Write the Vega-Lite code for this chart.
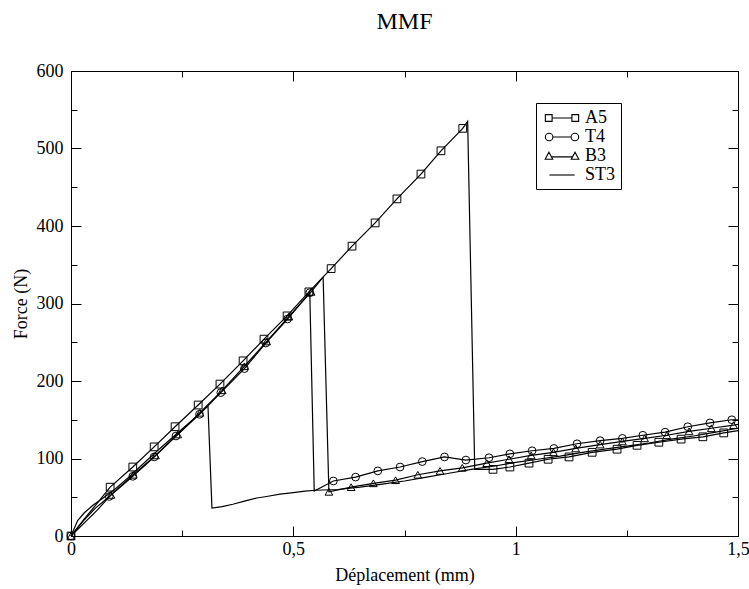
{
  "$schema": "https://vega.github.io/schema/vega-lite/v6.json",
  "width": 667,
  "height": 465,
  "autosize": {"type": "none"},
  "padding": {"left": 71, "top": 71, "right": 11, "bottom": 53},
  "background": "white",
  "title": {"text": "MMF", "font": "Liberation Serif", "fontSize": 24, "fontWeight": "normal", "color": "black", "anchor": "middle", "offset": 28, "frame": "group"},
  "datasets": {
    "curves": [
      {"series": "A5", "x": 0, "y": 0}, {"series": "A5", "x": 0.03, "y": 22}, {"series": "A5", "x": 0.06, "y": 43},
      {"series": "A5", "x": 0.088, "y": 63}, {"series": "A5", "x": 0.139, "y": 89}, {"series": "A5", "x": 0.187, "y": 115},
      {"series": "A5", "x": 0.234, "y": 141}, {"series": "A5", "x": 0.286, "y": 169}, {"series": "A5", "x": 0.335, "y": 196},
      {"series": "A5", "x": 0.387, "y": 226}, {"series": "A5", "x": 0.434, "y": 254}, {"series": "A5", "x": 0.486, "y": 284},
      {"series": "A5", "x": 0.535, "y": 315}, {"series": "A5", "x": 0.585, "y": 345}, {"series": "A5", "x": 0.632, "y": 374},
      {"series": "A5", "x": 0.684, "y": 404}, {"series": "A5", "x": 0.733, "y": 435}, {"series": "A5", "x": 0.787, "y": 467},
      {"series": "A5", "x": 0.832, "y": 497}, {"series": "A5", "x": 0.881, "y": 526}, {"series": "A5", "x": 0.892, "y": 535},
      {"series": "A5", "x": 0.908, "y": 86}, {"series": "A5", "x": 0.949, "y": 86}, {"series": "A5", "x": 0.987, "y": 89},
      {"series": "A5", "x": 1.03, "y": 94}, {"series": "A5", "x": 1.073, "y": 99}, {"series": "A5", "x": 1.12, "y": 102},
      {"series": "A5", "x": 1.172, "y": 108}, {"series": "A5", "x": 1.228, "y": 112}, {"series": "A5", "x": 1.273, "y": 117},
      {"series": "A5", "x": 1.322, "y": 121}, {"series": "A5", "x": 1.372, "y": 125}, {"series": "A5", "x": 1.421, "y": 128},
      {"series": "A5", "x": 1.468, "y": 133}, {"series": "A5", "x": 1.5, "y": 136},

      {"series": "T4", "x": 0, "y": 0}, {"series": "T4", "x": 0.03, "y": 21}, {"series": "T4", "x": 0.055, "y": 36},
      {"series": "T4", "x": 0.086, "y": 51}, {"series": "T4", "x": 0.139, "y": 77}, {"series": "T4", "x": 0.187, "y": 102},
      {"series": "T4", "x": 0.236, "y": 129}, {"series": "T4", "x": 0.289, "y": 157}, {"series": "T4", "x": 0.337, "y": 185},
      {"series": "T4", "x": 0.39, "y": 216}, {"series": "T4", "x": 0.438, "y": 249}, {"series": "T4", "x": 0.487, "y": 280},
      {"series": "T4", "x": 0.537, "y": 314}, {"series": "T4", "x": 0.547, "y": 58}, {"series": "T4", "x": 0.59, "y": 71},
      {"series": "T4", "x": 0.64, "y": 76}, {"series": "T4", "x": 0.69, "y": 84}, {"series": "T4", "x": 0.74, "y": 89},
      {"series": "T4", "x": 0.79, "y": 96}, {"series": "T4", "x": 0.84, "y": 102}, {"series": "T4", "x": 0.888, "y": 98},
      {"series": "T4", "x": 0.94, "y": 101}, {"series": "T4", "x": 0.987, "y": 106}, {"series": "T4", "x": 1.037, "y": 110},
      {"series": "T4", "x": 1.086, "y": 113}, {"series": "T4", "x": 1.138, "y": 119}, {"series": "T4", "x": 1.19, "y": 123},
      {"series": "T4", "x": 1.24, "y": 126}, {"series": "T4", "x": 1.286, "y": 130}, {"series": "T4", "x": 1.336, "y": 134},
      {"series": "T4", "x": 1.387, "y": 141}, {"series": "T4", "x": 1.437, "y": 146}, {"series": "T4", "x": 1.486, "y": 150},
      {"series": "T4", "x": 1.5, "y": 150},

      {"series": "B3", "x": 0, "y": 0}, {"series": "B3", "x": 0.03, "y": 17}, {"series": "B3", "x": 0.06, "y": 34},
      {"series": "B3", "x": 0.09, "y": 53}, {"series": "B3", "x": 0.14, "y": 79}, {"series": "B3", "x": 0.19, "y": 104},
      {"series": "B3", "x": 0.24, "y": 131}, {"series": "B3", "x": 0.29, "y": 159}, {"series": "B3", "x": 0.34, "y": 188},
      {"series": "B3", "x": 0.39, "y": 219}, {"series": "B3", "x": 0.44, "y": 251}, {"series": "B3", "x": 0.49, "y": 283},
      {"series": "B3", "x": 0.54, "y": 315}, {"series": "B3", "x": 0.567, "y": 334}, {"series": "B3", "x": 0.58, "y": 57},
      {"series": "B3", "x": 0.63, "y": 63}, {"series": "B3", "x": 0.68, "y": 68}, {"series": "B3", "x": 0.73, "y": 72},
      {"series": "B3", "x": 0.78, "y": 79}, {"series": "B3", "x": 0.83, "y": 84}, {"series": "B3", "x": 0.88, "y": 88},
      {"series": "B3", "x": 0.935, "y": 94}, {"series": "B3", "x": 0.985, "y": 99}, {"series": "B3", "x": 1.035, "y": 104},
      {"series": "B3", "x": 1.085, "y": 108}, {"series": "B3", "x": 1.135, "y": 113}, {"series": "B3", "x": 1.19, "y": 118},
      {"series": "B3", "x": 1.24, "y": 122}, {"series": "B3", "x": 1.29, "y": 126}, {"series": "B3", "x": 1.34, "y": 130},
      {"series": "B3", "x": 1.39, "y": 135}, {"series": "B3", "x": 1.44, "y": 139}, {"series": "B3", "x": 1.49, "y": 143},
      {"series": "B3", "x": 1.5, "y": 144},

      {"series": "ST3", "x": 0, "y": 0}, {"series": "ST3", "x": 0.015, "y": 20}, {"series": "ST3", "x": 0.03, "y": 30},
      {"series": "ST3", "x": 0.05, "y": 40}, {"series": "ST3", "x": 0.07, "y": 48}, {"series": "ST3", "x": 0.1, "y": 61},
      {"series": "ST3", "x": 0.13, "y": 76}, {"series": "ST3", "x": 0.16, "y": 92}, {"series": "ST3", "x": 0.2, "y": 113},
      {"series": "ST3", "x": 0.25, "y": 138}, {"series": "ST3", "x": 0.28, "y": 153}, {"series": "ST3", "x": 0.308, "y": 168},
      {"series": "ST3", "x": 0.317, "y": 36}, {"series": "ST3", "x": 0.34, "y": 38}, {"series": "ST3", "x": 0.364, "y": 41},
      {"series": "ST3", "x": 0.39, "y": 45}, {"series": "ST3", "x": 0.418, "y": 49}, {"series": "ST3", "x": 0.44, "y": 51},
      {"series": "ST3", "x": 0.47, "y": 54}, {"series": "ST3", "x": 0.5, "y": 56}, {"series": "ST3", "x": 0.526, "y": 58},
      {"series": "ST3", "x": 0.55, "y": 59}, {"series": "ST3", "x": 0.6, "y": 60}, {"series": "ST3", "x": 0.65, "y": 63},
      {"series": "ST3", "x": 0.7, "y": 67}, {"series": "ST3", "x": 0.75, "y": 71}, {"series": "ST3", "x": 0.8, "y": 76},
      {"series": "ST3", "x": 0.85, "y": 81}, {"series": "ST3", "x": 0.9, "y": 86}, {"series": "ST3", "x": 0.95, "y": 90},
      {"series": "ST3", "x": 1.0, "y": 95}, {"series": "ST3", "x": 1.05, "y": 99}, {"series": "ST3", "x": 1.1, "y": 103},
      {"series": "ST3", "x": 1.15, "y": 108}, {"series": "ST3", "x": 1.2, "y": 112}, {"series": "ST3", "x": 1.25, "y": 116},
      {"series": "ST3", "x": 1.3, "y": 120}, {"series": "ST3", "x": 1.35, "y": 125}, {"series": "ST3", "x": 1.4, "y": 129},
      {"series": "ST3", "x": 1.45, "y": 134}, {"series": "ST3", "x": 1.5, "y": 139}
    ],
    "markers": [
      {"series": "A5", "x": 0, "y": 0}, {"series": "A5", "x": 0.088, "y": 63}, {"series": "A5", "x": 0.139, "y": 89},
      {"series": "A5", "x": 0.187, "y": 115}, {"series": "A5", "x": 0.234, "y": 141}, {"series": "A5", "x": 0.286, "y": 169},
      {"series": "A5", "x": 0.335, "y": 196}, {"series": "A5", "x": 0.387, "y": 226}, {"series": "A5", "x": 0.434, "y": 254},
      {"series": "A5", "x": 0.486, "y": 284}, {"series": "A5", "x": 0.535, "y": 315}, {"series": "A5", "x": 0.585, "y": 345},
      {"series": "A5", "x": 0.632, "y": 374}, {"series": "A5", "x": 0.684, "y": 404}, {"series": "A5", "x": 0.733, "y": 435},
      {"series": "A5", "x": 0.787, "y": 467}, {"series": "A5", "x": 0.832, "y": 497}, {"series": "A5", "x": 0.881, "y": 526},
      {"series": "A5", "x": 0.949, "y": 86}, {"series": "A5", "x": 0.987, "y": 89}, {"series": "A5", "x": 1.03, "y": 94},
      {"series": "A5", "x": 1.073, "y": 99}, {"series": "A5", "x": 1.12, "y": 102}, {"series": "A5", "x": 1.172, "y": 108},
      {"series": "A5", "x": 1.228, "y": 112}, {"series": "A5", "x": 1.273, "y": 117}, {"series": "A5", "x": 1.322, "y": 121},
      {"series": "A5", "x": 1.372, "y": 125}, {"series": "A5", "x": 1.421, "y": 128}, {"series": "A5", "x": 1.468, "y": 133},

      {"series": "T4", "x": 0, "y": 0}, {"series": "T4", "x": 0.086, "y": 51}, {"series": "T4", "x": 0.139, "y": 77},
      {"series": "T4", "x": 0.187, "y": 102}, {"series": "T4", "x": 0.236, "y": 129}, {"series": "T4", "x": 0.289, "y": 157},
      {"series": "T4", "x": 0.337, "y": 185}, {"series": "T4", "x": 0.39, "y": 216}, {"series": "T4", "x": 0.438, "y": 249},
      {"series": "T4", "x": 0.487, "y": 280}, {"series": "T4", "x": 0.537, "y": 314}, {"series": "T4", "x": 0.59, "y": 71},
      {"series": "T4", "x": 0.64, "y": 76}, {"series": "T4", "x": 0.69, "y": 84}, {"series": "T4", "x": 0.74, "y": 89},
      {"series": "T4", "x": 0.79, "y": 96}, {"series": "T4", "x": 0.84, "y": 102}, {"series": "T4", "x": 0.888, "y": 98},
      {"series": "T4", "x": 0.94, "y": 101}, {"series": "T4", "x": 0.987, "y": 106}, {"series": "T4", "x": 1.037, "y": 110},
      {"series": "T4", "x": 1.086, "y": 113}, {"series": "T4", "x": 1.138, "y": 119}, {"series": "T4", "x": 1.19, "y": 123},
      {"series": "T4", "x": 1.24, "y": 126}, {"series": "T4", "x": 1.286, "y": 130}, {"series": "T4", "x": 1.336, "y": 134},
      {"series": "T4", "x": 1.387, "y": 141}, {"series": "T4", "x": 1.437, "y": 146}, {"series": "T4", "x": 1.486, "y": 150},

      {"series": "B3", "x": 0, "y": 0}, {"series": "B3", "x": 0.09, "y": 53}, {"series": "B3", "x": 0.14, "y": 79},
      {"series": "B3", "x": 0.19, "y": 104}, {"series": "B3", "x": 0.24, "y": 131}, {"series": "B3", "x": 0.29, "y": 159},
      {"series": "B3", "x": 0.34, "y": 188}, {"series": "B3", "x": 0.39, "y": 219}, {"series": "B3", "x": 0.44, "y": 251},
      {"series": "B3", "x": 0.49, "y": 283}, {"series": "B3", "x": 0.54, "y": 315}, {"series": "B3", "x": 0.58, "y": 57},
      {"series": "B3", "x": 0.63, "y": 63}, {"series": "B3", "x": 0.68, "y": 68}, {"series": "B3", "x": 0.73, "y": 72},
      {"series": "B3", "x": 0.78, "y": 79}, {"series": "B3", "x": 0.83, "y": 84}, {"series": "B3", "x": 0.88, "y": 88},
      {"series": "B3", "x": 0.935, "y": 94}, {"series": "B3", "x": 0.985, "y": 99}, {"series": "B3", "x": 1.035, "y": 104},
      {"series": "B3", "x": 1.085, "y": 108}, {"series": "B3", "x": 1.135, "y": 113}, {"series": "B3", "x": 1.19, "y": 118},
      {"series": "B3", "x": 1.24, "y": 122}, {"series": "B3", "x": 1.29, "y": 126}, {"series": "B3", "x": 1.34, "y": 130},
      {"series": "B3", "x": 1.39, "y": 135}, {"series": "B3", "x": 1.44, "y": 139}, {"series": "B3", "x": 1.49, "y": 143}
    ]
  },
  "layer": [
    {
      "data": {"name": "curves"},
      "mark": {"type": "line", "color": "black", "strokeWidth": 1.2},
      "encoding": {
        "x": {"field": "x", "type": "quantitative", "scale": {"domain": [0, 1.5], "nice": false, "zero": false},
          "axis": {"orient": "bottom", "values": [0, 0.25, 0.5, 0.75, 1, 1.25, 1.5],
            "labelExpr": "datum.value % 0.5 == 0 ? replace(toString(datum.value), '.', ',') : ''",
            "tickSize": {"condition": {"test": "datum.value % 0.5 == 0", "value": -10}, "value": -6},
            "labelPadding": 14, "title": "Déplacement (mm)", "titlePadding": 4}},
        "y": {"field": "y", "type": "quantitative", "scale": {"domain": [0, 600], "nice": false, "zero": false},
          "axis": {"orient": "left", "values": [0, 50, 100, 150, 200, 250, 300, 350, 400, 450, 500, 550, 600],
            "labelExpr": "datum.value % 100 == 0 ? toString(datum.value) : ''",
            "tickSize": {"condition": {"test": "datum.value % 100 == 0", "value": -10}, "value": -6},
            "labelPadding": 18, "title": "Force (N)", "titlePadding": 6}},
        "detail": {"field": "series", "type": "nominal"}
      }
    },
    {
      "data": {"name": "markers"},
      "mark": {"type": "point", "filled": false, "stroke": "black", "strokeWidth": 1, "size": 60, "opacity": 1},
      "encoding": {
        "x": {"field": "x", "type": "quantitative",
          "axis": {"orient": "top", "values": [0, 0.25, 0.5, 0.75, 1, 1.25, 1.5], "labels": false, "title": null,
            "tickSize": {"condition": {"test": "datum.value % 0.5 == 0", "value": -10}, "value": -6}}},
        "y": {"field": "y", "type": "quantitative",
          "axis": {"orient": "right", "values": [0, 50, 100, 150, 200, 250, 300, 350, 400, 450, 500, 550, 600], "labels": false, "title": null,
            "tickSize": {"condition": {"test": "datum.value % 100 == 0", "value": -10}, "value": -6}}},
        "shape": {"field": "series", "type": "nominal",
          "scale": {"domain": ["A5", "T4", "B3"], "range": ["square", "circle", "triangle-up"]}, "legend": null}
      }
    },
    {
      "data": {"name": "markers"},
      "mark": {"type": "point", "opacity": 0},
      "encoding": {
        "x": {"field": "x", "type": "quantitative", "axis": null},
        "y": {"field": "y", "type": "quantitative", "axis": null},
        "shape": {"field": "series", "type": "nominal",
          "scale": {"domain": ["A5", "T4", "B3", "ST3"], "range": [
            "M-1.85,-0.38H-1.1V0.38H-1.85Z M-1.1,0H1.1 M1.1,-0.38H1.85V0.38H1.1Z",
            "M-1.85,0A0.42,0.42 0 1,1 -1.01,0A0.42,0.42 0 1,1 -1.85,0Z M-1.01,0H1.01 M1.01,0A0.42,0.42 0 1,1 1.85,0A0.42,0.42 0 1,1 1.01,0Z",
            "M-1.45,-0.42L-1.03,0.36H-1.87Z M-1.17,0.1H1.17 M1.45,-0.42L1.87,0.36H1.03Z",
            "M-1.4,0H1.4"]},
          "legend": {"title": null, "orient": "none", "legendX": 465, "legendY": 32,
            "strokeColor": "black", "fillColor": "white", "padding": 5,
            "symbolSize": 324, "symbolStrokeColor": "black", "symbolFillColor": "transparent",
            "symbolStrokeWidth": 1.1, "symbolOpacity": 1, "symbolOffset": 11, "labelOffset": 13,
            "labelFont": "Liberation Serif", "labelFontSize": 18, "labelColor": "black", "rowPadding": 0}}
      }
    }
  ],
  "resolve": {"axis": {"x": "independent", "y": "independent"}, "scale": {"shape": "independent"}, "legend": {"shape": "independent"}},
  "config": {
    "font": "Liberation Serif",
    "view": {"stroke": "black", "strokeWidth": 1},
    "axis": {"grid": false, "domain": false, "tickColor": "black", "tickWidth": 1, "labelFlush": false, "labelOverlap": false,
      "labelFont": "Liberation Serif", "labelFontSize": 18, "labelColor": "black",
      "titleFont": "Liberation Serif", "titleFontSize": 18, "titleFontWeight": "normal", "titleColor": "black"}
  }
}
